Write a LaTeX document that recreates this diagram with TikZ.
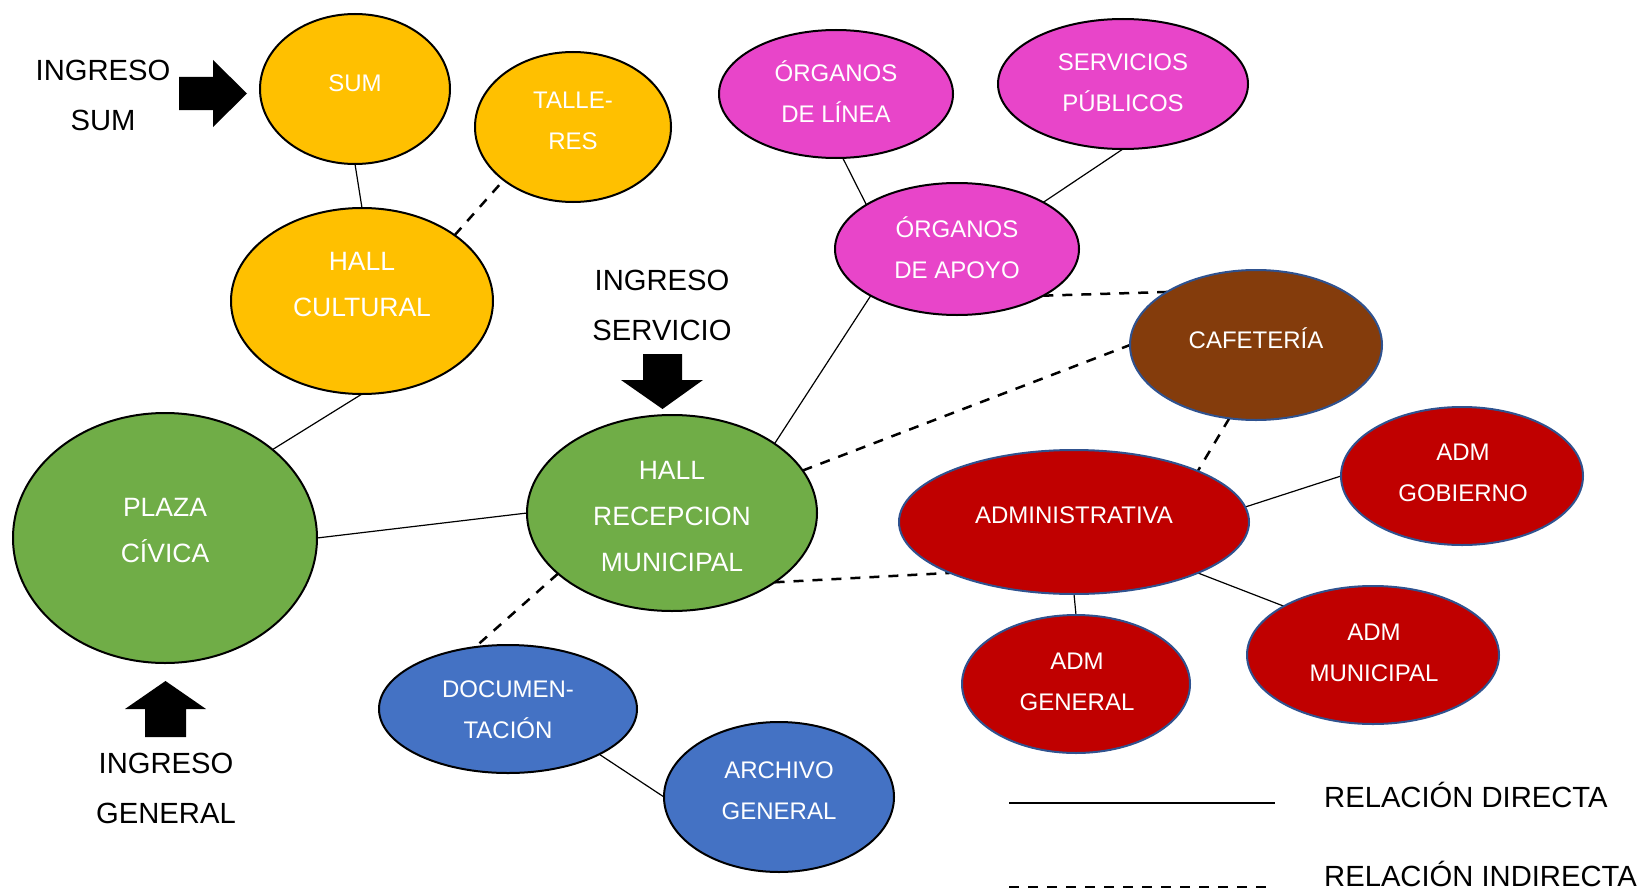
\documentclass[tikz,border=0pt]{standalone}
\usepackage{fontspec}
\setmainfont{Liberation Sans}
\usepackage{tikz}
\usetikzlibrary{shapes.geometric,backgrounds}
\definecolor{gold}{HTML}{FFC000}
\definecolor{leaf}{HTML}{70AD47}
\definecolor{magenta}{HTML}{E845C9}
\definecolor{coffee}{HTML}{843C0C}
\definecolor{wine}{HTML}{C00000}
\definecolor{steel}{HTML}{4472C4}
\definecolor{edgeblue}{HTML}{2F528F}

\begin{document}
\begin{tikzpicture}[x=1pt,y=-1pt,
			ell/.style={ellipse,draw=black,line width=2pt,inner sep=0pt,outer sep=0pt},
			redell/.style={ell,draw=edgeblue,fill=wine},
			wt/.style={text=white,align=center,inner sep=0pt,font=\fontsize{24}{41}\selectfont},
			wtb/.style={wt,font=\fontsize{26.5}{46}\selectfont},
			lbl/.style={align=center,inner sep=0pt,font=\fontsize{29.2}{50}\selectfont},
			direct/.style={line width=1.2pt},
			indirect/.style={line width=2.5pt,dash pattern=on 10pt off 9pt}
			]
			\useasboundingbox (0,0) rectangle (1644,891);
			\node[ell,fill=gold,minimum width=190pt,minimum height=150pt] (sum) at (355,89) {};
			\node[ell,fill=gold,minimum width=196pt,minimum height=150pt] (tal) at (573,127) {};
			\node[ell,fill=gold,minimum width=262pt,minimum height=186pt] (hc) at (362,301) {};
			\node[ell,fill=leaf,minimum width=304pt,minimum height=250pt] (plaza) at (165,538) {};
			\node[ell,fill=leaf,minimum width=290pt,minimum height=196pt] (hr) at (672,513) {};
			\node[ell,fill=steel,minimum width=258pt,minimum height=128pt] (doc) at (508,709) {};
			\node[ell,fill=steel,minimum width=230pt,minimum height=150pt] (arch) at (779,797) {};
			\node[ell,fill=magenta,minimum width=234pt,minimum height=128pt] (ol) at (836,94) {};
			\node[ell,fill=magenta,minimum width=250pt,minimum height=130pt] (sp) at (1123,84) {};
			\node[ell,fill=magenta,minimum width=244pt,minimum height=132pt] (oa) at (957,249) {};
			\node[ell,draw=edgeblue,fill=coffee,minimum width=252pt,minimum height=150pt] (caf) at (1256,345) {};
			\node[redell,minimum width=350pt,minimum height=144pt] (adm) at (1074,522) {};
			\node[redell,minimum width=242pt,minimum height=138pt] (gob) at (1462,476) {};
			\node[redell,minimum width=228pt,minimum height=138pt] (gen) at (1076,684) {};
			\node[redell,minimum width=252pt,minimum height=138pt] (mun) at (1373,655) {};

			\node[wt] (sumT) at (355,83) {SUM};
			\node[wt] (talT) at (573,121) {TALLE-\\RES};
			\node[wtb] (hcT) at (362,285) {HALL\\CULTURAL};
			\node[wtb] (plazaT) at (165,531) {PLAZA\\CÍVICA};
			\node[wtb] (hrT) at (672,517) {HALL\\RECEPCION\\MUNICIPAL};
			\node[wt] (docT) at (508,710) {DOCUMEN-\\TACIÓN};
			\node[wt] (archT) at (779,791) {ARCHIVO\\GENERAL};
			\node[wt] (olT) at (836,92) {ÓRGANOS\\DE LÍNEA};
			\node[wt] (spT) at (1123,83) {SERVICIOS\\PÚBLICOS};
			\node[wt] (oaT) at (957,248) {ÓRGANOS\\DE APOYO};
			\node[wt] (cafT) at (1256,338) {CAFETERÍA};
			\node[wt] (admT) at (1074,515) {ADMINISTRATIVA};
			\node[wt] (gobT) at (1463,473) {ADM\\GOBIERNO};
			\node[wt] (genT) at (1077,682) {ADM\\GENERAL};
			\node[wt] (munT) at (1374,653) {ADM\\MUNICIPAL};

			\node[lbl] (inSum) at (103,95) {INGRESO\\SUM};
			\node[lbl] (inServ) at (662,305) {INGRESO\\SERVICIO};
			\node[lbl] (inGen) at (166,788) {INGRESO\\GENERAL};
			\fill (179,77) -- (213,77) -- (213,60) -- (247,93.5) -- (213,127) -- (213,110) -- (179,110) -- cycle;
			\fill (643,354) -- (682,354) -- (682,380) -- (703,380) -- (662.5,409) -- (621,380) -- (643,380) -- cycle;
			\fill (145,737) -- (186,737) -- (186,709) -- (206,709) -- (165.5,681) -- (125,709) -- (145,709) -- cycle;

			\begin{scope}[on background layer]
				\draw[direct] (sum.south) -- (hc.north);
				\draw[direct] (hc.south) -- (plaza.north east);
				\draw[direct] (plaza.east) -- (hr.west);
				\draw[direct] (hr.north east) -- (oa.south west);
				\draw[direct] (ol.276) -- (oa.154);
				\draw[direct] (sp.south) -- (oa.north east);
				\draw[direct] (adm.5) -- (gob.west);
				\draw[direct] (adm.south) -- (gen.north);
				\draw[direct] (adm.south east) -- (mun.north west);
				\draw[direct] (doc.south east) -- (arch.west);
				\draw[indirect] (hc.north east) -- (tal.south west);
				\draw[indirect] (oa.south east) -- (caf.north west);
				\draw[indirect] (hr.18) -- (caf.west);
				\draw[indirect] (caf.250) -- (adm.north east);
				\draw[indirect] (hr.south east) -- (adm.south west);
				\draw[indirect] (hr.208) -- (doc.118);
			\end{scope}

			\coordinate (dirA) at (1009,803);
			\coordinate (dirB) at (1275,803);
			\coordinate (indA) at (1009,887);
			\coordinate (indB) at (1275,887);
			\draw[direct] (dirA) -- (dirB);
			\draw[indirect] (indA) -- (indB);
			\node[lbl,anchor=base west] (lDir) at (1324,807) {RELACIÓN DIRECTA};
			\node[lbl,anchor=base west] (lInd) at (1324,886) {RELACIÓN INDIRECTA};
		\end{tikzpicture}
\end{document}
